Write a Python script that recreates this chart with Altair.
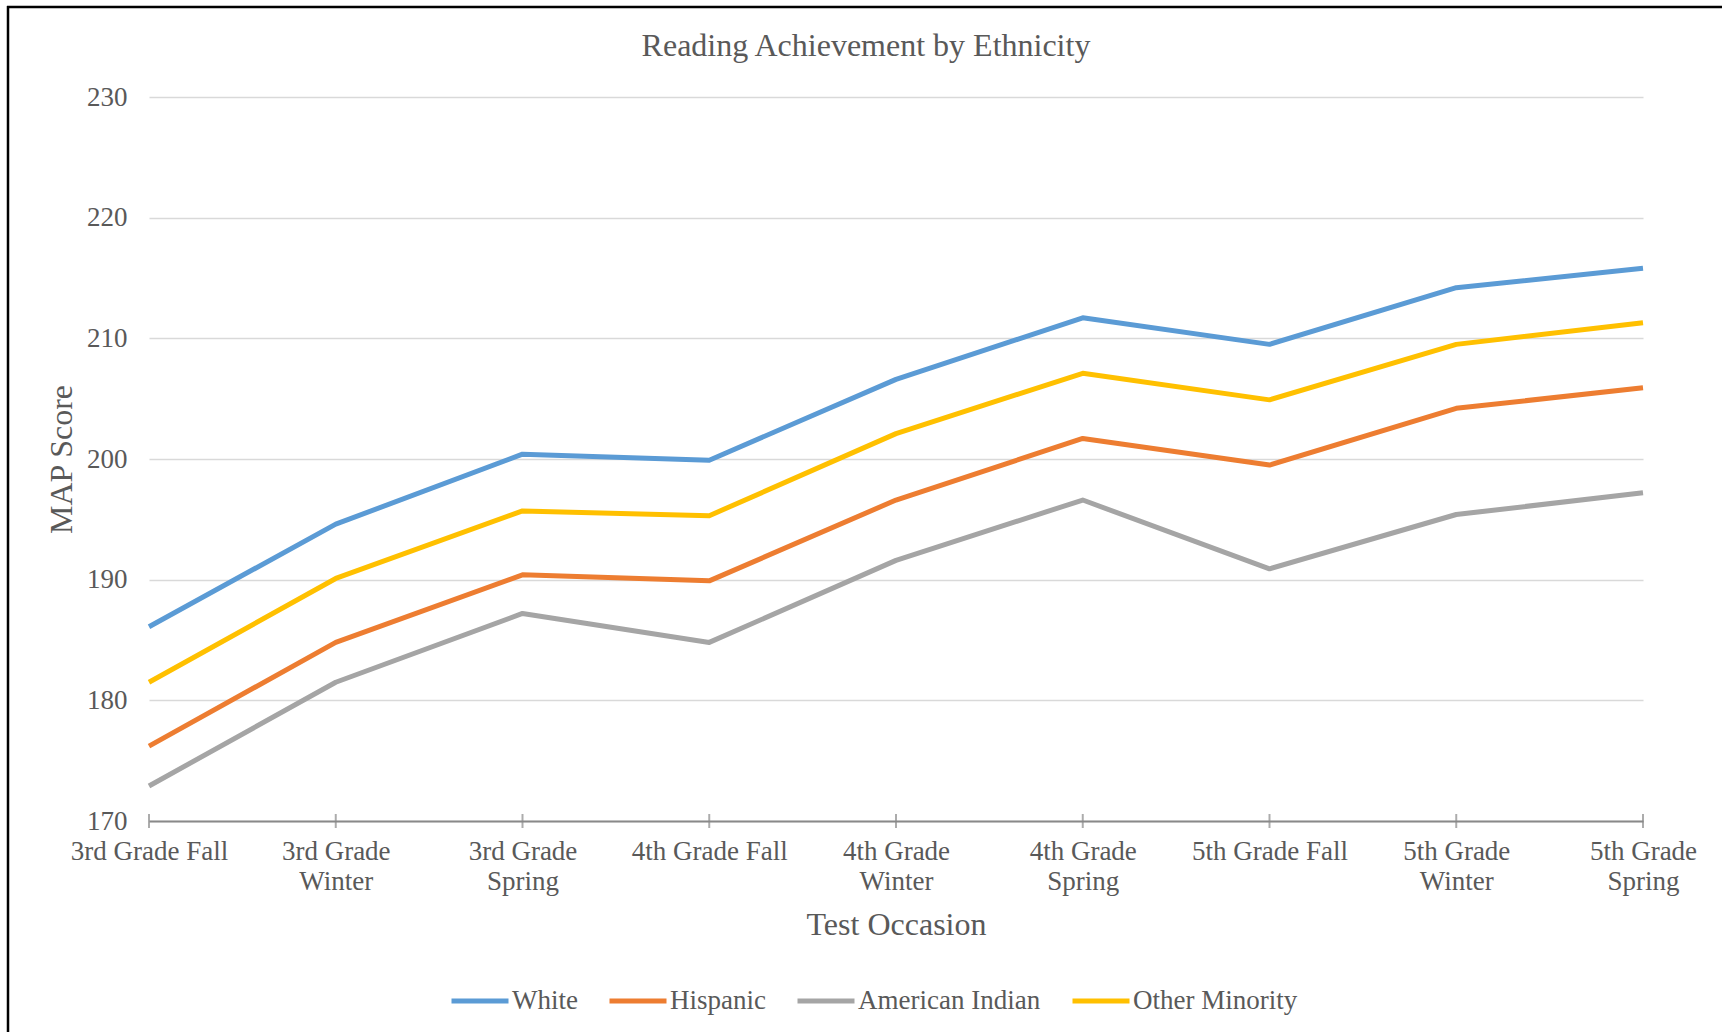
import altair as alt
import pandas as pd

occasions = ["3rd Grade Fall", "3rd Grade Winter", "3rd Grade Spring",
             "4th Grade Fall", "4th Grade Winter", "4th Grade Spring",
             "5th Grade Fall", "5th Grade Winter", "5th Grade Spring"]
groups = ["White", "Hispanic", "American Indian", "Other Minority"]
colors = ["#5B9BD5", "#ED7D31", "#A5A5A5", "#FFC000"]

white = [186.1, 194.6, 200.4, 199.9, 206.6, 211.7, 209.5, 214.2, 215.8]
hispanic = [176.2, 184.8, 190.4, 189.9, 196.6, 201.7, 199.5, 204.2, 205.9]
american_indian = [172.9, 181.5, 187.2, 184.8, 191.6, 196.6, 190.9, 195.4, 197.2]
other_minority = [181.5, 190.1, 195.7, 195.3, 202.1, 207.1, 204.9, 209.5, 211.3]

series = [white, hispanic, american_indian, other_minority]
rows = []
for g, vals in zip(groups, series):
    for o, v in zip(occasions, vals):
        rows.append({"Occasion": o, "Group": g, "Score": v})
df = pd.DataFrame(rows)

FONT = "Liberation Serif"
TXT = "#595959"
W, H = 1494, 724
PL, PT = 149, 97

xscale = alt.Scale(type="point", domain=occasions, padding=0)

lines = alt.Chart(df).mark_line(strokeWidth=5, strokeJoin="round").encode(
    x=alt.X("Occasion:N", sort=occasions, scale=xscale,
            axis=alt.Axis(title="Test Occasion", labelAngle=0, tickSize=0,
                          domainColor="#898989", domainWidth=2,
                          labelFont=FONT, labelFontSize=27, labelColor=TXT,
                          labelPadding=17, labelLineHeight=30,
                          labelExpr="test(/Fall/, datum.label) ? datum.label : [slice(datum.label, 0, 9), slice(datum.label, 10)]",
                          titleFont=FONT, titleFontSize=32, titleFontWeight="normal",
                          titleColor=TXT, titlePadding=15, grid=False)),
    y=alt.Y("Score:Q", scale=alt.Scale(domain=[170, 230], nice=False, zero=False),
            axis=alt.Axis(title="MAP Score", values=[170, 180, 190, 200, 210, 220, 230],
                          domain=False, ticks=False, labelFont=FONT, labelFontSize=27,
                          labelColor=TXT, labelPadding=22, gridColor="#D9D9D9",
                          gridWidth=1.5, titleFont=FONT, titleFontSize=32,
                          titleFontWeight="normal", titleColor=TXT, titlePadding=8)),
    color=alt.Color("Group:N", scale=alt.Scale(domain=groups, range=colors),
                    sort=groups,
                    legend=alt.Legend(title=None, orient="none", direction="horizontal",
                                      legendX=300, legendY=873, symbolType="stroke",
                                      symbolSize=3249, symbolStrokeWidth=5,
                                      labelFont=FONT, labelFontSize=27, labelColor=TXT,
                                      labelLimit=0, labelOffset=1, columnPadding=21,
                                      padding=0)),
    order=alt.Order("Group:N"),
)

ticks = alt.Chart(pd.DataFrame({"Occasion": occasions})).mark_tick(
    orient="vertical", size=14, thickness=2, color="#898989"
).encode(
    x=alt.X("Occasion:N", sort=occasions, scale=xscale),
    y=alt.datum(170),
)

one = pd.DataFrame({"a": [0]})
top_border = alt.Chart(one).mark_rule(color="black", strokeWidth=2.5).encode(
    x=alt.value(-142), x2=alt.value(1722), y=alt.value(-90))
left_border = alt.Chart(one).mark_rule(color="black", strokeWidth=2.5).encode(
    x=alt.value(-141), y=alt.value(-91), y2=alt.value(1032))

chart = alt.layer(lines, ticks, top_border, left_border).properties(
    width=W, height=H,
    title=alt.TitleParams("Reading Achievement by Ethnicity", font=FONT, fontSize=32,
                          fontWeight="normal", color=TXT, anchor="middle",
                          frame="group", baseline="alphabetic", offset=-83, dx=-30),
    autosize=alt.AutoSizeParams(type="none"),
    padding={"left": PL, "top": PT, "right": 1722 - PL - W, "bottom": 1032 - PT - H},
    background="white",
).configure_view(stroke=None)

chart.save("out.html", embed_options={"renderer": "svg", "actions": False})
